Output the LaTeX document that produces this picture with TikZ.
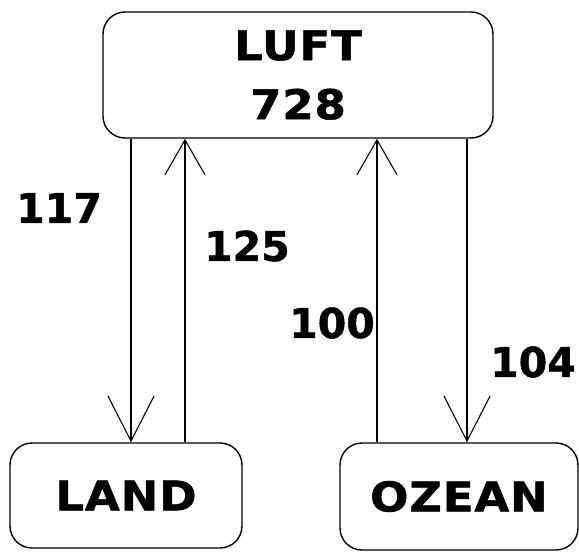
\documentclass[tikz,border=0pt]{standalone}
\usepackage{fontspec}
\setmainfont{DejaVu Sans}[BoldFont={DejaVu Sans Bold}]
\newfontfamily\boxfont{DejaVu Sans Bold}[FakeStretch=1.1, FakeBold=1.2, LetterSpace=2]
\newfontfamily\ratefont{DejaVu Sans Bold}[FakeBold=1.2]
\usepackage{tikz}
\usetikzlibrary{arrows.meta, positioning}

\begin{document}
\begin{tikzpicture}[
    x=1pt, y=-1pt,
    pool/.style={rectangle, draw, line width=1.4pt, rounded corners=22pt, align=center,
        font=\boxfont\fontsize{41}{59}\selectfont},
    upflow/.style={line width=1.1pt, -{Straight Barb[length=35pt, width=40pt, line width=1.1pt]}},
    downflow/.style={line width=1.1pt, -{Straight Barb[length=45pt, width=46pt, line width=1.1pt]}},
    rate/.style={font=\ratefont\fontsize{41}{48}\selectfont}
]
\useasboundingbox (0,0) rectangle (579,552);

\node[pool, minimum width=390pt, minimum height=126pt] (luft) at (298,75) {LUFT\\728};
\node[pool, minimum width=232pt, minimum height=105pt] (land) at (126,495.5) {LAND};
\node[pool, minimum width=238pt, minimum height=107pt] (ozean) at (459,496.5) {OZEAN};

\draw[downflow] ([xshift=-167pt]luft.south) -- ([xshift=5pt]land.north);
\draw[upflow] ([xshift=59pt]land.north) -- ([xshift=-113pt]luft.south);
\draw[upflow] ([xshift=-82pt]ozean.north) -- ([xshift=79pt]luft.south);
\draw[downflow] ([xshift=169pt]luft.south) -- ([xshift=8pt]ozean.north);

\node[rate] (r117) at (59,208) {117};
\node[rate] (r125) at (247,246) {125};
\node[rate] (r100) at (332,323) {100};
\node[rate] (r104) at (533,362) {104};
\end{tikzpicture}
\end{document}
